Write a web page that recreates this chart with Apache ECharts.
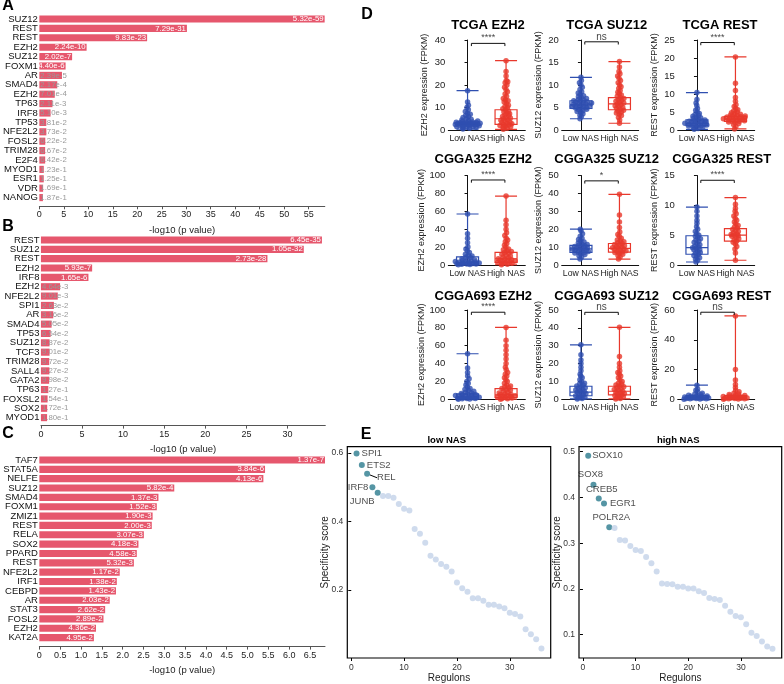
<!DOCTYPE html>
<html><head><meta charset="utf-8">
<script src="https://cdn.jsdelivr.net/npm/echarts@6/dist/echarts.min.js"></script>
<style>html,body{margin:0;padding:0;background:#fff}#c{width:784px;height:684px}</style>
</head><body><div id="c"></div><script>
// ---------------- DATA ----------------
const aNames = ['SUZ12','REST','REST','EZH2','SUZ12','FOXM1','AR','SMAD4','EZH2','TP63','IRF8','TP53','NFE2L2','FOSL2','TRIM28','E2F4','MYOD1','ESR1','VDR','NANOG'];
const aP = ['5.32e-59','7.29e-31','9.83e-23','2.24e-10','2.02e-7','4.40e-6','2.39e-5','2.17e-4','7.01e-4','2.11e-3','5.10e-3','3.81e-2','3.73e-2','6.22e-2','6.67e-2','6.42e-2','1.23e-1','1.25e-1','1.69e-1','1.87e-1'];
const aValues = [58.27,30.14,22.01,9.65,6.69,5.36,4.62,3.66,3.15,2.68,2.29,1.42,1.43,1.21,1.18,1.19,0.91,0.90,0.77,0.73];
const aTicks = [0,5,10,15,20,25,30,35,40,45,50,55];

const bNames = ['REST','SUZ12','REST','EZH2','IRF8','EZH2','NFE2L2','SPI1','AR','SMAD4','TP53','SUZ12','TCF3','TRIM28','SALL4','GATA2','TP63','FOXSL2','SOX2','MYOD1'];
const bP = ['6.45e-35','1.05e-32','2.73e-28','5.93e-7','1.65e-6','4.64e-3','9.01e-3','2.63e-2','3.16e-2','5.05e-2','6.54e-2','8.87e-2','9.01e-2','9.72e-2','9.27e-2','9.98e-2','1.27e-1','1.54e-1','1.72e-1','1.80e-1'];
const bValues = [34.19,31.98,27.56,6.23,5.78,2.33,2.05,1.58,1.50,1.30,1.18,1.05,1.05,1.01,1.03,1.00,0.90,0.81,0.76,0.75];
const bTicks = [0,5,10,15,20,25,30];

const cNames = ['TAF7','STAT5A','NELFE','SUZ12','SMAD4','FOXM1','ZMIZ1','REST','RELA','SOX2','PPARD','REST','NFE2L2','IRF1','CEBPD','AR','STAT3','FOSL2','EZH2','KAT2A'];
const cP = ['1.37e-7','3.84e-6','4.13e-6','5.82e-4','1.37e-3','1.52e-3','1.90e-3','2.00e-3','3.07e-3','4.18e-3','4.58e-3','5.32e-3','1.17e-2','1.38e-2','1.43e-2','2.03e-2','2.62e-2','2.89e-2','4.36e-2','4.95e-2'];
const cValues = [6.86,5.42,5.38,3.24,2.86,2.82,2.72,2.70,2.51,2.38,2.34,2.27,1.93,1.86,1.84,1.69,1.58,1.54,1.36,1.31];
const cTicks = [0,0.5,1,1.5,2,2.5,3,3.5,4,4.5,5,5.5,6,6.5];

const dTitles = ['TCGA EZH2','TCGA SUZ12','TCGA REST','CGGA325 EZH2','CGGA325 SUZ12','CGGA325 REST','CGGA693 EZH2','CGGA693 SUZ12','CGGA693 REST'];
const dYNames = ['EZH2 expression (FPKM)','SUZ12 expression (FPKM)','REST expression (FPKM)','EZH2 expression (FPKM)','SUZ12 expression (FPKM)','REST expression (FPKM)','EZH2 expression (FPKM)','SUZ12 expression (FPKM)','REST expression (FPKM)'];
const dGroups = ['Low NAS','High NAS'];
const dMax = [40,20,25,100,50,15,100,50,60];
const dInterval = [10,5,5,20,10,5,20,10,20];
const dSig = ['****','ns','****','****','*','****','****','ns','ns'];
const dSigY = [38.5,19.6,24.3,95,47,14.2,97.5,48.7,58.5];
// [min, Q1, median, Q3, max]
const dBoxLow = [[0.4,2.0,2.7,3.5,17.5],[2.5,4.8,5.6,6.5,11.7],[0.2,1.2,1.8,2.8,10.4],[0.2,1,3,9,57],[3.3,7,9,11,20],[0.5,1.8,2.9,4.9,9.7],[0.1,1,2.5,6,51],[0.2,2,4,7.3,30.5],[0.1,0.5,1,2.5,9.5]];
const dBoxHigh = [[0.3,2.5,5,9,30.8],[1.5,4.5,5.8,7.2,15.2],[0.3,2.4,3.0,3.8,20.3],[0.3,3,7,14,77],[3.3,7.2,9.3,12,39.5],[0.8,4,5,6.1,11.3],[0.1,2,5,12,80.5],[0.2,2.5,4.5,7.3,40.3],[0.1,0.5,1,2.5,56]];
const dPtsLow = [
 [0.4,0.8,1.0,1.2,1.4,1.5,1.6,1.8,1.9,2.0,2.1,2.2,2.3,2.4,2.5,2.5,2.6,2.7,2.8,2.9,3.0,3.0,3.1,3.2,3.3,3.4,3.5,3.6,3.8,4.0,4.2,4.5,4.8,5.2,5.6,6.0,6.5,7.0,7.5,8.2,9,10,11,12.5,17.5],
 [2.5,3.0,3.3,3.6,3.9,4.1,4.3,4.5,4.6,4.8,4.9,5.0,5.1,5.2,5.3,5.4,5.5,5.6,5.7,5.8,5.9,6.0,6.1,6.2,6.3,6.4,6.5,6.6,6.8,7.0,7.2,7.4,7.6,7.9,8.2,8.5,9.0,9.5,10,10.5,11.0,11.7],
 [0.2,0.4,0.6,0.8,1.0,1.1,1.2,1.3,1.4,1.5,1.6,1.7,1.8,1.9,2.0,2.1,2.2,2.3,2.4,2.5,2.6,2.8,3.0,3.2,3.4,3.6,3.8,4.0,4.3,4.6,5.0,5.5,6.0,6.8,7.5,8.5,10.4],
 [0.2,0.5,0.8,1,1.2,1.5,1.8,2,2.3,2.6,3,3.3,3.6,4,4.5,5,5.5,6,7,8,9,10,11,12,14,16,18,20,25,30,35,57],
 [3.3,4.5,5.2,5.8,6.3,6.7,7.0,7.3,7.6,7.9,8.2,8.5,8.8,9.0,9.2,9.5,9.8,10.1,10.4,10.7,11,11.4,11.8,12.3,12.8,13.5,14.2,15,16,17.5,19,20],
 [0.5,0.8,1.0,1.2,1.4,1.6,1.8,2.0,2.1,2.3,2.5,2.6,2.8,2.9,3.0,3.2,3.4,3.6,3.8,4.0,4.2,4.4,4.6,4.8,5.0,5.3,5.6,6.0,6.4,7.0,7.5,8.2,9.0,9.7],
 [0.1,0.3,0.5,0.8,1,1.3,1.6,2,2.3,2.6,3,3.4,3.8,4.2,4.6,5,5.5,6,6.5,7,8,9,10,11,12,14,16,18,20,23,26,30,35,51],
 [0.2,0.5,0.8,1.2,1.6,2,2.4,2.8,3.2,3.6,4,4.4,4.8,5.2,5.6,6,6.5,7,7.5,8,8.5,9,10,11,12,13,14,16,18,20,22,25,30.5],
 [0.1,0.2,0.3,0.4,0.5,0.6,0.7,0.8,0.9,1.0,1.1,1.2,1.4,1.6,1.8,2.0,2.2,2.4,2.7,3.0,3.5,4,5,6,7,9.5]
];
const dPtsHigh = [
 [0.3,0.8,1.2,1.5,1.8,2.0,2.3,2.5,2.8,3.0,3.3,3.6,4.0,4.3,4.6,5.0,5.3,5.6,6.0,6.4,6.8,7.2,7.6,8.0,8.5,9.0,9.5,10,10.5,11,11.8,12.5,13,13.5,14,15,16,17,18,19,20,21,21.5,22,24,26,30.8],
 [1.5,2.2,2.8,3.2,3.5,3.8,4.0,4.2,4.4,4.6,4.8,5.0,5.2,5.4,5.6,5.8,6.0,6.2,6.4,6.6,6.8,7.0,7.2,7.5,7.8,8.1,8.4,8.8,9.2,9.6,10,10.5,11,11.5,12,12.5,13,14,15.2],
 [0.3,1.0,1.5,1.8,2.0,2.2,2.4,2.5,2.6,2.7,2.8,2.9,3.0,3.1,3.2,3.3,3.4,3.5,3.6,3.7,3.8,3.9,4.0,4.2,4.4,4.6,4.8,5.0,5.3,5.6,6.0,6.5,7.0,8,9,11,13,20.3],
 [0.3,0.8,1.5,2,2.5,3,3.5,4,4.5,5,5.5,6,6.5,7,8,9,10,11,12,13,14,15,16,17,18,20,22,24,26,28,30,33,36,40,45,50,77],
 [3.3,4.5,5.3,6,6.5,7,7.3,7.6,8,8.3,8.6,9,9.3,9.6,10,10.3,10.7,11,11.5,12,12.5,13,13.5,14,15,16,17,18.5,21,24,28,39.5],
 [0.8,2.0,2.7,3.1,3.5,3.8,4.0,4.2,4.4,4.6,4.8,4.9,5.0,5.1,5.2,5.4,5.6,5.8,6.0,6.2,6.4,6.6,6.9,7.2,7.5,7.8,8.2,8.6,9.0,9.5,10.2,11.3],
 [0.1,0.5,1,1.5,2,2.5,3,3.5,4,4.5,5,5.5,6,7,8,9,10,11,12,13,14,15,16,18,20,22,24,26,28,30,33,36,40,45,50,55,60,66,80.5],
 [0.2,0.5,0.9,1.3,1.7,2.1,2.5,2.9,3.3,3.7,4.1,4.5,5,5.5,6,6.5,7,7.5,8,8.5,9,10,11,12,13,14,15,16,18,20,24,40.3],
 [0.1,0.2,0.3,0.4,0.5,0.6,0.7,0.8,0.9,1.0,1.2,1.4,1.6,1.8,2.0,2.2,2.5,2.8,3.2,3.6,4,5,6,8,10,13,20,56]
];

const eLowValues = [0.598,0.565,0.539,0.500,0.484,0.474,0.474,0.469,0.451,0.437,0.432,0.378,0.364,0.338,0.300,0.289,0.276,0.268,0.254,0.222,0.205,0.195,0.176,0.176,0.169,0.157,0.157,0.152,0.147,0.134,0.130,0.123,0.086,0.071,0.057,0.030];
const eLowLabels = ['SPI1','ETS2','REL','IRF8','JUNB'];
const eHighValues = [0.491,0.428,0.398,0.387,0.335,0.333,0.307,0.306,0.294,0.285,0.283,0.270,0.256,0.238,0.212,0.211,0.210,0.205,0.205,0.201,0.201,0.195,0.191,0.180,0.178,0.176,0.163,0.150,0.141,0.138,0.123,0.104,0.097,0.085,0.074,0.069];
const eHighLabels = ['SOX10','SOX8','CREB5','EGR1','POLR2A'];
const eXTicks = [0,10,20,30];
const eLowYTicks = [0.2,0.4,0.6];
const eHighYTicks = [0.1,0.2,0.3,0.4,0.5];

// ---------------- STYLE / LAYOUT ----------------
const FONT = '"Liberation Sans", Arial, Helvetica, sans-serif';
const BAR = '#e6576d';
const BLUE = '#2f4fb0';
const RED = '#e8382c';
const DARK = '#2a7a8d';
const LIGHT = '#c3d2e8';

const grids = [], xAxes = [], yAxes = [], series = [], graphics = [];

function addBarPanel(names, vals, labels, ticks, cfg) {
  const gi = grids.length, xi = xAxes.length, yi = yAxes.length;
  grids.push({left: cfg.left, top: cfg.top, width: cfg.width, height: cfg.height});
  xAxes.push({gridIndex: gi, type: 'value', min: 0, max: cfg.max, offset: cfg.offset,
    axisLine: {show: true, lineStyle: {color: '#555', width: 1}},
    axisTick: {show: true, length: 3, lineStyle: {color: '#555'}, customValues: ticks},
    axisLabel: {fontSize: 9, color: '#222', margin: 4, fontFamily: FONT, customValues: ticks, formatter: cfg.fmt},
    splitLine: {show: false},
    name: '-log10 (p value)', nameLocation: 'middle', nameGap: 19, nameMoveOverlap: false,
    nameTextStyle: {fontSize: 9.5, color: '#222', fontFamily: FONT}});
  yAxes.push({gridIndex: gi, type: 'category', data: names, inverse: true,
    axisLine: {show: false}, axisTick: {show: false}, splitLine: {show: false},
    axisLabel: {fontSize: 9.5, color: '#111', margin: 1.5, fontFamily: FONT, interval: 0}});
  const pxu = cfg.width / cfg.max;
  series.push({type: 'bar', xAxisIndex: xi, yAxisIndex: yi, barCategoryGap: '24%', silent: true,
    itemStyle: {color: BAR},
    data: vals.map((v, i) => {
      const inside = v * pxu > 25;
      return {value: v, label: {show: true, formatter: labels[i], position: inside ? 'insideRight' : 'insideLeft',
        distance: 1, color: inside ? '#fff' : '#999', fontSize: 7.8, fontFamily: FONT}};
    })});
}

addBarPanel(aNames, aValues, aP, aTicks, {left: 33.3, top: 14.3, width: 291.5, height: 188, max: 58.3, offset: 4});
addBarPanel(bNames, bValues, bP, bTicks, {left: 33.3, top: 235.3, width: 292, height: 187, max: 34.6, offset: 3.3});
addBarPanel(cNames, cValues, cP, cTicks, {left: 33.5, top: 455.3, width: 291.5, height: 187, max: 6.86, offset: 4.3,
  fmt: v => v === 0 ? '0' : v.toFixed(1)});

function jitter(vals, max) {
  const w = max * 0.03;
  return vals.map((v, i) => {
    let n = 0; for (const u of vals) if (Math.abs(u - v) <= w) n++;
    const hw = Math.min(0.34, 0.024 * (n - 1));
    const s = ((i * 0.6180339887) % 1) * 2 - 1;
    return hw * s;
  });
}

const dLeft = [448.3, 561.7, 677.7];
const dTop = [40, 175.5, 310];
const dH = [90, 89.5, 89.3];
const dTitleX = [[488, 606.7, 720], [483.3, 606.7, 721.7], [483.3, 606.7, 721.7]];
const dTitleY = [25, 159.3, 296];

for (let k = 0; k < 9; k++) {
  const col = k % 3, row = Math.floor(k / 3);
  const gi = grids.length, xc = xAxes.length, xv = xc + 1, yi = yAxes.length;
  grids.push({left: dLeft[col], top: dTop[row], width: 77, height: dH[row]});
  xAxes.push({gridIndex: gi, type: 'category', data: dGroups,
    axisLine: {show: true, lineStyle: {color: '#111', width: 1}}, axisTick: {show: false},
    axisLabel: {fontSize: 8.7, color: '#222', margin: 4, fontFamily: FONT, interval: 0}});
  xAxes.push({gridIndex: gi, type: 'value', min: -0.5, max: 1.5, show: false});
  yAxes.push({gridIndex: gi, type: 'value', min: 0, max: dMax[k], interval: dInterval[k],
    axisLine: {show: true, lineStyle: {color: '#111', width: 1}},
    axisTick: {show: true, length: 3, lineStyle: {color: '#111'}},
    axisLabel: {fontSize: 9.5, color: '#222', margin: 3, fontFamily: FONT},
    splitLine: {show: false},
    name: dYNames[k], nameLocation: 'middle', nameGap: 19,
    nameTextStyle: {fontSize: 9, color: '#222', fontFamily: FONT}});
  [[dPtsLow[k], 0, BLUE], [dPtsHigh[k], 1, RED]].forEach(([pts, c, col2]) => {
    const off = jitter(pts, dMax[k]);
    series.push({type: 'scatter', xAxisIndex: xv, yAxisIndex: yi, symbolSize: 5.5, silent: true,
      itemStyle: {color: col2},
      data: pts.map((v, i) => [c + off[i], v])});
  });
  series.push({type: 'boxplot', xAxisIndex: xc, yAxisIndex: yi, silent: true, boxWidth: [22, 22],
    itemStyle: {color: 'rgba(0,0,0,0)', borderWidth: 1.2},
    data: [{value: dBoxLow[k], itemStyle: {borderColor: BLUE}}, {value: dBoxHigh[k], itemStyle: {borderColor: RED}}]});
  const y = dSigY[k], d = dMax[k] * 0.03;
  series.push({type: 'line', xAxisIndex: xv, yAxisIndex: yi, silent: true, symbol: 'none',
    lineStyle: {color: '#111', width: 1},
    data: [[0.1, y - d], [0.1, y], [0.97, y], [0.97, y - d]]});
  series.push({type: 'scatter', xAxisIndex: xv, yAxisIndex: yi, silent: true, symbolSize: 0,
    label: {show: true, position: 'top', distance: dSig[k] === 'ns' ? 0 : 1, formatter: dSig[k],
      fontSize: dSig[k] === 'ns' ? 10 : 9, color: '#111', fontFamily: FONT},
    data: [[0.535, y]]});
  graphics.push({type: 'text', x: dTitleX[row][col], y: dTitleY[row],
    style: {text: dTitles[k], textAlign: 'center', textVerticalAlign: 'middle', fill: '#000',
      font: 'bold 13px ' + FONT}});
}

// label placement for highlighted regulons (style only)
const eLabelPos = {
  SPI1: {position: 'right', distance: 2},
  ETS2: {position: 'right', distance: 2},
  REL: {position: 'right', distance: 2},
  IRF8: {position: 'left', distance: 1},
  JUNB: {position: 'left', distance: 0},
  SOX10: {position: 'right', distance: 1},
  SOX8: {position: 'top', distance: 2},
  CREB5: {position: 'top', distance: 1},
  EGR1: {position: 'right', distance: 3},
  POLR2A: {position: 'top', distance: 2}
};
const eLabelShift = {REL: {dx: 5, dy: 4}, JUNB: {dy: 9}, SOX8: {dx: -3}, CREB5: {dx: 3}, POLR2A: {dx: 2}};

function addEPanel(vals, labels, yTicks, cfg) {
  const gi = grids.length, xi = xAxes.length, yi = yAxes.length;
  grids.push({left: cfg.left, top: 446.7, width: cfg.width, height: 212.6, show: true,
    borderColor: '#000', borderWidth: 1.2, backgroundColor: 'rgba(0,0,0,0)'});
  xAxes.push({gridIndex: gi, type: 'value', min: -0.75, max: 37.75,
    axisLine: {show: false},
    axisTick: {show: true, length: 3, lineStyle: {color: '#000'}, customValues: eXTicks},
    axisLabel: {fontSize: 8.5, color: '#333', margin: 5, fontFamily: FONT, customValues: eXTicks},
    splitLine: {show: false},
    name: 'Regulons', nameLocation: 'middle', nameGap: 15, nameMoveOverlap: false,
    nameTextStyle: {fontSize: 10, color: '#222', fontFamily: FONT}});
  yAxes.push({gridIndex: gi, type: 'value', min: cfg.ymin, max: cfg.ymax,
    axisLine: {show: false},
    axisTick: {show: true, length: 3, lineStyle: {color: '#000'}, customValues: yTicks},
    axisLabel: {fontSize: 8.5, color: '#333', margin: 4, fontFamily: FONT, customValues: yTicks},
    splitLine: {show: false},
    name: 'Specificity score', nameLocation: 'middle', nameGap: cfg.nameGap, nameMoveOverlap: false,
    nameTextStyle: {fontSize: 10, color: '#222', fontFamily: FONT}});
  series.push({type: 'scatter', xAxisIndex: xi, yAxisIndex: yi, symbolSize: 6, silent: true,
    labelLayout: p => eLabelShift[labels[p.dataIndex]],
    data: vals.map((v, i) => {
      const hi = i < labels.length;
      const item = {value: [i + 1, v], itemStyle: {color: hi ? DARK : LIGHT}};
      if (hi) {
        item.label = Object.assign({show: true, formatter: labels[i], fontSize: 9.5, color: '#222', fontFamily: FONT}, eLabelPos[labels[i]]);
        item.labelLine = {show: labels[i] === 'REL', lineStyle: {color: '#000', width: 1}};
      }
      return item;
    })});
}
addEPanel(eLowValues, eLowLabels, eLowYTicks, {left: 347.3, width: 203.4, ymin: 0.002, ymax: 0.618, nameGap: 17});
addEPanel(eHighValues, eHighLabels, eHighYTicks, {left: 579, width: 202.7, ymin: 0.049, ymax: 0.511, nameGap: 17});

graphics.push({type: 'text', x: 446.7, y: 440, style: {text: 'low NAS', textAlign: 'center', textVerticalAlign: 'middle', fill: '#000', font: 'bold 9.5px ' + FONT}});
graphics.push({type: 'text', x: 678.3, y: 440, style: {text: 'high NAS', textAlign: 'center', textVerticalAlign: 'middle', fill: '#000', font: 'bold 9.5px ' + FONT}});
[['A', 8, 6], ['B', 8, 227], ['C', 8, 434], ['D', 367, 15], ['E', 366, 435]].forEach(([t, x, y]) => {
  graphics.push({type: 'text', x: x, y: y, style: {text: t, textAlign: 'center', textVerticalAlign: 'middle', fill: '#000', font: 'bold 16px ' + FONT}});
});

const chart = echarts.init(document.getElementById('c'), null, {width: 784, height: 684});
chart.setOption({
  animation: false,
  backgroundColor: '#fff',
  textStyle: {fontFamily: FONT},
  grid: grids, xAxis: xAxes, yAxis: yAxes, series: series, graphic: graphics
});
</script></body></html>
